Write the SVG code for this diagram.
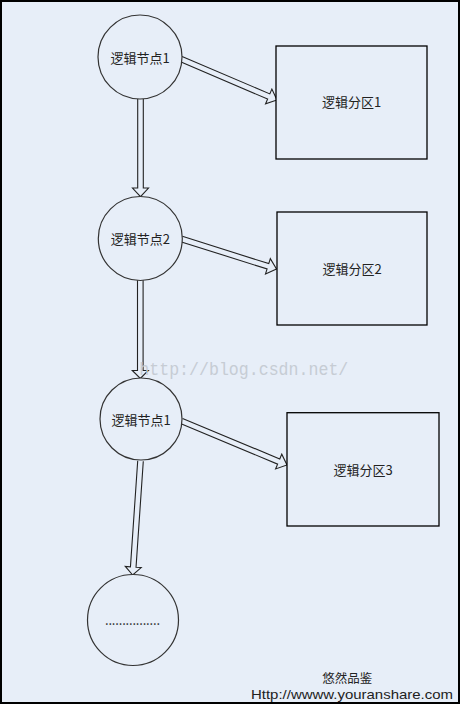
<svg xmlns="http://www.w3.org/2000/svg" width="469" height="715" viewBox="0 0 469 715">
  <style>
    .node { fill: #e7eef8; stroke: #333; stroke-width: 1.2; }
    .box { fill: #e7eef8; stroke: #000; stroke-width: 1.3; }
    .lbl { font-family: "Noto Sans CJK SC", "Liberation Sans", sans-serif; font-size: 13px; fill: #222; text-anchor: middle; dominant-baseline: central; }
    .foot { font-family: "Liberation Sans", "Noto Sans CJK SC", sans-serif; font-size: 13px; fill: #222; text-anchor: middle; }
    .arrow { fill: #e7eef8; stroke: #222; stroke-width: 1.1; stroke-linejoin: miter; }
    .wm { font-family: "Liberation Mono", monospace; font-size: 19px; fill: #c6ccd4; }
  </style>
  <rect x="0" y="0" width="469" height="715" fill="#ffffff"/>
  <rect x="1" y="1" width="458" height="702" fill="#e7eef8" stroke="#000" stroke-width="2"/>

  <g id="connectors">
    <path class="arrow" d="M137.7,99 L137.7,188 L132.5,188 L140.5,196.7 L148.5,188 L143.3,188 L143.3,99"/>
    <path class="arrow" d="M137.5,280 L137.5,370.5 L132.3,370.5 L140.3,378.5 L148.3,370.5 L143.1,370.5 L143.1,280"/>
    <path class="arrow" d="M137.71,460.81 L130.45,566.83 L125.27,566.47 L132.7,575 L141.23,567.57 L136.04,567.21 L143.29,461.19"/>
    <path class="arrow" d="M179.9,61.58 L267.62,99.04 L265.58,103.82 L277,100 L271.87,89.11 L269.82,93.89 L182.1,56.43"/>
    <path class="arrow" d="M180.66,241.67 L267.08,268.96 L265.51,273.92 L276.5,269 L270.33,258.66 L268.76,263.62 L182.34,236.33"/>
    <path class="arrow" d="M180.42,423.58 L277.61,464.12 L275.61,468.92 L287,465 L281.77,454.16 L279.77,458.96 L182.58,418.42"/>
  </g>

  <g id="node1">
    <circle class="node" cx="140" cy="57" r="42"/>
    <text class="lbl" x="140" y="57">逻辑节点1</text>
  </g>
  <g id="node2">
    <circle class="node" cx="140.3" cy="238.5" r="42"/>
    <text class="lbl" x="140.3" y="238.5">逻辑节点2</text>
  </g>
  <g id="node3">
    <circle class="node" cx="141" cy="419" r="41"/>
    <text class="lbl" x="141" y="419">逻辑节点1</text>
  </g>
  <g id="node4">
    <circle class="node" cx="133" cy="620" r="45.5"/>
    <text class="lbl" x="132.5" y="619" textLength="55" lengthAdjust="spacing">................</text>
  </g>

  <g id="part1">
    <rect class="box" x="276" y="46" width="151" height="113"/>
    <text class="lbl" x="351.6" y="101.5">逻辑分区1</text>
  </g>
  <g id="part2">
    <rect class="box" x="277" y="212" width="150" height="113"/>
    <text class="lbl" x="352" y="268">逻辑分区2</text>
  </g>
  <g id="part3">
    <rect class="box" x="287" y="412.7" width="152" height="113.3"/>
    <text class="lbl" x="363" y="469">逻辑分区3</text>
  </g>

  <text class="wm" x="139.3" y="375" textLength="209" lengthAdjust="spacingAndGlyphs">http://blog.csdn.net/</text>

  <g id="footer">
    <text class="lbl" x="347.3" y="677" style="font-size:12.5px">悠然品鉴</text>
    <text class="foot" x="352" y="699" textLength="202" lengthAdjust="spacingAndGlyphs">Http://wwww.youranshare.com</text>
  </g>
</svg>
